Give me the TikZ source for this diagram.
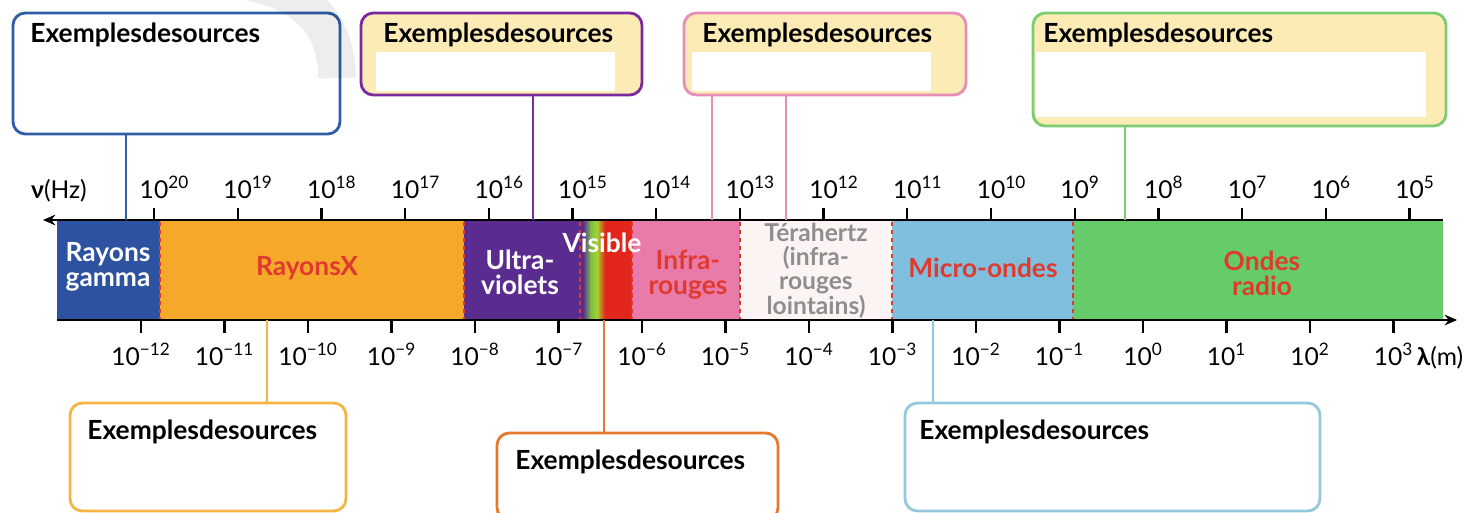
\documentclass[tikz,border=0pt]{standalone}
\usepackage{fontspec}
\setmainfont{Lato}
\usetikzlibrary{fit,arrows.meta}

\definecolor{gammablue}{HTML}{2D52A0}
\definecolor{xorange}{HTML}{F6A82B}
\definecolor{uvpurple}{HTML}{5B2C90}
\definecolor{visgreen}{HTML}{7DC242}
\definecolor{visred}{HTML}{E3261C}
\definecolor{irpink}{HTML}{E97BAA}
\definecolor{thzwhite}{HTML}{FBF4F2}
\definecolor{mwblue}{HTML}{7FBEDC}
\definecolor{radiogreen}{HTML}{66CC6A}
\definecolor{labred}{HTML}{E03A2E}
\definecolor{labgray}{HTML}{8E8E8E}
\definecolor{titlefill}{HTML}{FCEBB4}
\definecolor{bluebd}{HTML}{2F5DA6}
\definecolor{purplebd}{HTML}{7A2A9E}
\definecolor{pinkbd}{HTML}{E78DB6}
\definecolor{greenbd}{HTML}{7BCB70}
\definecolor{orangebd}{HTML}{F4B446}
\definecolor{darkorangebd}{HTML}{E57A2E}
\definecolor{lightbluebd}{HTML}{94C9DD}

\tikzset{
  srcbox/.style={draw, line width=1.6pt, rounded corners=7pt, inner sep=0pt},
  boxtitle/.style={font=\fontsize{15}{18}\selectfont\bfseries, anchor=base west, inner sep=0pt},
  link/.style={line width=1.3pt},
  bandlbl/.style={font=\fontsize{15}{14.3}\selectfont\bfseries, align=center, inner sep=0pt},
  scalelbl/.style={font=\fontsize{14}{16}\selectfont, anchor=base, inner sep=0pt},
  sep/.style={draw=labred, line width=1pt, dash pattern=on 2.5pt off 2pt},
  axis/.style={line width=1.3pt, -{Stealth[length=7pt,width=6pt]}}
}

\begin{document}
\begin{tikzpicture}[x=0.02cm,y=-0.02cm]
\useasboundingbox (0,0) rectangle (1466,513);

% bandes du spectre
\fill[gammablue] (57,220) rectangle (160,320);
\fill[xorange] (160,220) rectangle (464,320);
\fill[uvpurple] (464,220) rectangle (583,320);
\shade[left color=uvpurple, right color=visgreen] (583,220) rectangle (591,320);
\shade[left color=visgreen, right color=visgreen!70!yellow] (591,220) rectangle (597,320);
\shade[left color=visgreen!70!yellow, right color=visred] (597,220) rectangle (605,320);
\fill[visred] (605,220) rectangle (632,320);
\fill[irpink] (632,220) rectangle (740,320);
\fill[thzwhite] (740,220) rectangle (892,320);
\fill[mwblue] (892,220) rectangle (1073,320);
\fill[radiogreen] (1073,220) rectangle (1443,320);
\foreach \x in {160,464,580,632,740,892,1073}
  \draw[sep] (\x,222) -- (\x,319);

% axes
\draw[axis] (1443,220) -- (43,220);
\draw[axis] (57,320) -- (1457,320);
\foreach \e [count=\i from 0] in {20,19,...,5} {
  \pgfmathsetmacro{\x}{154+83.7*\i}
  \draw[line width=1.3pt] (\x,208) -- (\x,220);
  \node[scalelbl] at (\x,198) {10\rlap{\textsuperscript{\e}}};
}
\foreach \e [count=\i from 0] in {−12,−11,−10,−9,−8,−7,−6,−5,−4,−3,−2,−1,0,1,2,3} {
  \pgfmathsetmacro{\x}{141+83.5*\i}
  \draw[line width=1.3pt] (\x,320) -- (\x,333);
  \node[scalelbl] at (\x,365) {10\textsuperscript{\e}};
}
\node[scalelbl] (nu) at (59,198) {\textbf{ν}(Hz)};
\node[scalelbl] (lambda) at (1440,365) {\textbf{λ}(m)};

% noms des domaines
\node[bandlbl, white] (gammalbl) at (108,267) {Rayons\\gamma};
\node[bandlbl, labred] (xlbl) at (307,268) {RayonsX};
\node[bandlbl, white] (uvlbl) at (520,272) {Ultra-\\violets};
\node[bandlbl, white] (vislbl) at (602,243) {Visible};
\node[bandlbl, labred] (irlbl) at (688,275) {Infra-\\rouges};
\node[bandlbl, labgray, font=\fontsize{14}{13.5}\selectfont\bfseries] (thzlbl) at (816,271) {Térahertz\\(infra-\\rouges\\lointains)};
\node[bandlbl, labred] (mwlbl) at (983,268) {Micro-ondes};
\node[bandlbl, labred] (radiolbl) at (1262,273) {Ondes\\radio};

% cadres du haut
\node[srcbox, draw=bluebd, fill=white, fit={(13,13) (340,134)}] (gammabox) {};
\node[srcbox, draw=purplebd, fill=titlefill, fit={(361,13) (642,95)}] (uvbox) {};
\node[srcbox, draw=pinkbd, fill=titlefill, fit={(684,13) (966,95)}] (irbox) {};
\node[srcbox, draw=greenbd, fill=titlefill, fit={(1033,13) (1446,126)}] (radiobox) {};
\fill[white] (376,52) rectangle (615,91);
\fill[white] (692,52) rectangle (931,91);
\fill[white] (1036,52) rectangle (1426,117);
\node[boxtitle] (gammatitle) at (30,43) {Exemplesdesources};
\node[boxtitle] (uvtitle) at (383,43) {Exemplesdesources};
\node[boxtitle] (irtitle) at (702,43) {Exemplesdesources};
\node[boxtitle] (radiotitle) at (1043,43) {Exemplesdesources};

% cadres du bas
\node[srcbox, draw=orangebd, fill=white, fit={(70,403) (346,511)}] (xbox) {};
\node[srcbox, draw=darkorangebd, fill=white, fit={(497,433) (778,520)}] (visbox) {};
\node[srcbox, draw=lightbluebd, fill=white, fit={(905,403) (1320,511)}] (mwbox) {};
\node[boxtitle] (xtitle) at (87,439) {Exemplesdesources};
\node[boxtitle] (vistitle) at (515,469) {Exemplesdesources};
\node[boxtitle] (mwtitle) at (919,439) {Exemplesdesources};

% liaisons cadre -> spectre
\coordinate (gammafoot) at (126,220);
\coordinate (uvfoot) at (533,220);
\coordinate (irfoot) at (712,220);
\coordinate (thzfoot) at (786,220);
\coordinate (radiofoot) at (1125,220);
\coordinate (xfoot) at (267,320);
\coordinate (visfoot) at (604,320);
\coordinate (mwfoot) at (933,320);
\draw[link, bluebd] (gammafoot |- gammabox.south) -- (gammafoot);
\draw[link, purplebd] (uvfoot |- uvbox.south) -- (uvfoot);
\draw[link, pinkbd] (irfoot |- irbox.south) -- (irfoot);
\draw[link, pinkbd] (thzfoot |- irbox.south) -- (thzfoot);
\draw[link, greenbd] (radiofoot |- radiobox.south) -- (radiofoot);
\draw[link, orangebd] (xfoot |- xbox.north) -- (xfoot);
\draw[link, darkorangebd] (visfoot |- visbox.north) -- (visfoot);
\draw[link, lightbluebd] (mwfoot |- mwbox.north) -- (mwfoot);

% filigrane gris
\draw[black, opacity=0.07, line width=0.75cm] (215,-22) .. controls (300,-18) and (337,20) .. (337,78);
\end{tikzpicture}
\end{document}
